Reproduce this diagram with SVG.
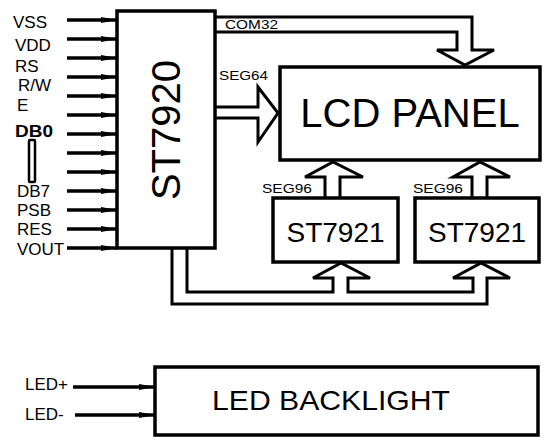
<svg xmlns="http://www.w3.org/2000/svg" width="550" height="444" viewBox="0 0 550 444">
<style>
text{font-family:"Liberation Sans",Arial,sans-serif;fill:#000}
.box{fill:#fff;stroke:#000;stroke-width:3.5}
.pin{stroke:#000;stroke-width:3.5;fill:none}
.bus{stroke:#000;stroke-width:3;fill:none;stroke-linejoin:miter}
.lbl{font-size:17px}
.sm{font-size:13px}
</style>
<defs>
<marker id="ah" viewBox="0 0 16 6" refX="16" refY="3" markerWidth="16" markerHeight="6" markerUnits="userSpaceOnUse" orient="auto">
<path d="M0,0 L16,3 L0,6 Z" fill="#000"/>
</marker>
</defs>
<rect width="550" height="444" fill="#fff"/>
<g id="connectors">
<line class="pin" x1="67" y1="20" x2="117" y2="20" marker-end="url(#ah)"/>
<line class="pin" x1="67" y1="39" x2="117" y2="39" marker-end="url(#ah)"/>
<line class="pin" x1="67" y1="58" x2="117" y2="58" marker-end="url(#ah)"/>
<line class="pin" x1="67" y1="77" x2="117" y2="77" marker-end="url(#ah)"/>
<line class="pin" x1="67" y1="96" x2="117" y2="96" marker-end="url(#ah)"/>
<line class="pin" x1="67" y1="115" x2="117" y2="115" marker-end="url(#ah)"/>
<line class="pin" x1="67" y1="134" x2="117" y2="134" marker-end="url(#ah)"/>
<line class="pin" x1="67" y1="153" x2="117" y2="153" marker-end="url(#ah)"/>
<line class="pin" x1="67" y1="172" x2="117" y2="172" marker-end="url(#ah)"/>
<line class="pin" x1="67" y1="191" x2="117" y2="191" marker-end="url(#ah)"/>
<line class="pin" x1="67" y1="210" x2="117" y2="210" marker-end="url(#ah)"/>
<line class="pin" x1="67" y1="229" x2="117" y2="229" marker-end="url(#ah)"/>
<line class="pin" x1="67" y1="248" x2="117" y2="248" marker-end="url(#ah)"/>
<line class="pin" x1="73" y1="387" x2="155" y2="387" marker-end="url(#ah)"/>
<line class="pin" x1="75" y1="415" x2="155" y2="415" marker-end="url(#ah)"/>
<path class="bus" d="M215,17 H472 V50 H494 L465,65 L437,50 H457 V32 H215"/>
<path class="bus" d="M215,107 H258 V87 L278,113 L258,142 V118 H215"/>
<path class="bus" d="M325,198 V177 H305 L333,162 L363,177 H340 V198"/>
<path class="bus" d="M472,198 V177 H453 L480,162 L510,177 H487 V198"/>
<path class="bus" stroke-width="3.5" d="M172,248 V304 H487 V278 H510 L481,263 L453,278 H473 V292 H348 V278 H370 L341,263 L313,278 H333 V292 H187 V248"/>
<rect x="29" y="140" width="6" height="42" fill="none" stroke="#000" stroke-width="2.5" rx="1"/>
</g>
<g id="labels">
<text class="lbl" x="13" y="28">VSS</text>
<text class="lbl" x="15" y="51">VDD</text>
<text class="lbl" x="15" y="72">RS</text>
<text class="lbl" x="18" y="91">R/W</text>
<text class="lbl" x="17" y="111">E</text>
<text class="lbl" x="15" y="137" font-weight="bold" textLength="38" lengthAdjust="spacingAndGlyphs">DB0</text>
<text class="lbl" x="17" y="197">DB7</text>
<text class="lbl" x="17" y="216">PSB</text>
<text class="lbl" x="17" y="235">RES</text>
<text class="lbl" x="17" y="255">VOUT</text>
<text class="sm" x="225" y="29" textLength="53" lengthAdjust="spacingAndGlyphs">COM32</text>
<text class="sm" x="219" y="80" textLength="49" lengthAdjust="spacingAndGlyphs">SEG64</text>
<text class="sm" x="262" y="193" textLength="50" lengthAdjust="spacingAndGlyphs">SEG96</text>
<text class="sm" x="413" y="193" textLength="50" lengthAdjust="spacingAndGlyphs">SEG96</text>
<text class="lbl" x="25" y="390" font-size="16">LED+</text>
<text class="lbl" x="25" y="420" font-size="16">LED-</text>
</g>
<g id="st7920">
<rect class="box" x="117" y="11" width="98" height="237"/>
<text x="166" y="130" font-size="40" text-anchor="middle" dominant-baseline="central" transform="rotate(-90 166 130)">ST7920</text>
</g>
<g id="lcd-panel">
<rect class="box" x="280" y="67" width="260" height="93"/>
<text x="410" y="127" font-size="40" text-anchor="middle">LCD PANEL</text>
</g>
<g id="st7921-a">
<rect class="box" x="273" y="198" width="125" height="64"/>
<text x="335.500" y="242" font-size="28" text-anchor="middle">ST7921</text>
</g>
<g id="st7921-b">
<rect class="box" x="415" y="198" width="124" height="64"/>
<text x="477" y="242" font-size="28" text-anchor="middle">ST7921</text>
</g>
<g id="led-backlight">
<rect class="box" x="155" y="367" width="383" height="68"/>
<text x="212" y="410" font-size="28" textLength="238" lengthAdjust="spacingAndGlyphs">LED BACKLIGHT</text>
</g>
</svg>
